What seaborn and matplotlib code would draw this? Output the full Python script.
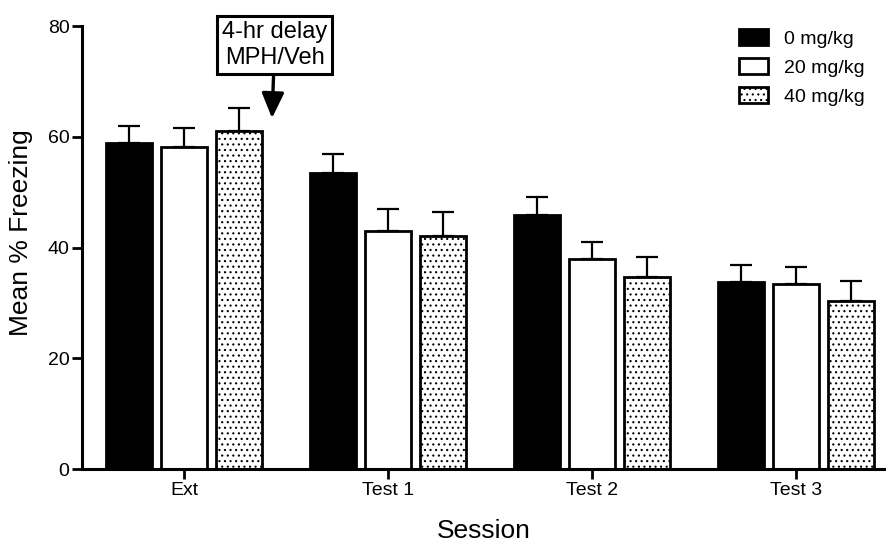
import matplotlib
matplotlib.use("Agg")
import matplotlib.pyplot as plt
import seaborn as sns
import pandas as pd
import numpy as np

sessions = ["Ext", "Test 1", "Test 2", "Test 3"]
doses = ["0 mg/kg", "20 mg/kg", "40 mg/kg"]
mean_0 = [58.9, 53.4, 45.9, 33.8]
mean_20 = [58.1, 43.1, 37.9, 33.5]
mean_40 = [61.1, 42.2, 34.8, 30.4]
sem_0 = [3.0, 3.5, 3.3, 3.1]
sem_20 = [3.5, 3.8, 3.1, 3.0]
sem_40 = [4.2, 4.2, 3.5, 3.6]
yticks = [0, 20, 40, 60, 80]

means = [mean_0, mean_20, mean_40]
sems = [sem_0, sem_20, sem_40]
rows = []
for d, m, s in zip(doses, means, sems):
    for sess, mv, sv in zip(sessions, m, s):
        rows.append({"Session": sess, "Dose": d, "Mean": mv, "SEM": sv})
df = pd.DataFrame(rows)

sns.set_theme(style="ticks")
plt.rcParams["font.family"] = ["Liberation Sans", "DejaVu Sans"]
plt.rcParams["hatch.linewidth"] = 0.8
plt.rcParams["text.color"] = "black"
plt.rcParams["axes.labelcolor"] = "black"

fig = plt.figure(figsize=(8.86, 5.45), dpi=100)
ax = fig.add_axes([0.0926, 0.139, 0.9074, 0.813])

sns.barplot(data=df, x="Session", y="Mean", hue="Dose", order=sessions,
            hue_order=doses, palette=["black", "white", "white"],
            errorbar=None, width=0.81, gap=0.17, edgecolor="black",
            linewidth=2.0, saturation=1, ax=ax, legend=False)

for cont, s in zip(ax.containers, sems):
    xs = [p.get_x() + p.get_width() / 2 for p in cont.patches]
    hs = [p.get_height() for p in cont.patches]
    ax.errorbar(xs, hs, yerr=[np.zeros(len(s)), s], fmt="none",
                ecolor="black", elinewidth=1.6, capsize=8, capthick=1.6,
                zorder=1)
for p in ax.containers[2].patches:
    p.set_hatch("...")

ax.set_ylim(0, 80)
ax.set_xlim(-0.5, 3.44)
ax.set_yticks(yticks)
ax.tick_params(axis="both", direction="out", length=7, width=2,
               labelsize=14, colors="black", pad=2)
for sp in ["left", "bottom"]:
    ax.spines[sp].set_linewidth(2.2)
    ax.spines[sp].set_color("black")
ax.spines["top"].set_visible(False)
ax.spines["right"].set_visible(False)
ax.set_xlabel("Session", fontsize=19)
ax.set_ylabel("Mean % Freezing", fontsize=19)
ax.xaxis.set_label_coords(0.5, -0.113)
ax.yaxis.set_label_coords(-0.061, 0.535)

handles = list(ax.containers[i].patches[0] for i in range(3))
leg = ax.legend(handles, doses, loc="upper right",
                bbox_to_anchor=(0.988, 1.02),
                frameon=False, fontsize=14, handlelength=1.5,
                handleheight=0.9, labelspacing=0.52, handletextpad=0.8,
                borderaxespad=0.2)

ax.annotate("4-hr delay\nMPH/Veh", xy=(0.431, 63.4), xytext=(0.444, 76.6),
            ha="center", va="center", fontsize=17, annotation_clip=False,
            bbox=dict(boxstyle="square,pad=0.22", fc="white", ec="black", lw=2.2),
            arrowprops=dict(arrowstyle="-|>,head_length=0.9,head_width=0.4",
                            color="black", lw=2.4, shrinkA=0, shrinkB=0))

fig.savefig("out.png", dpi=100)
